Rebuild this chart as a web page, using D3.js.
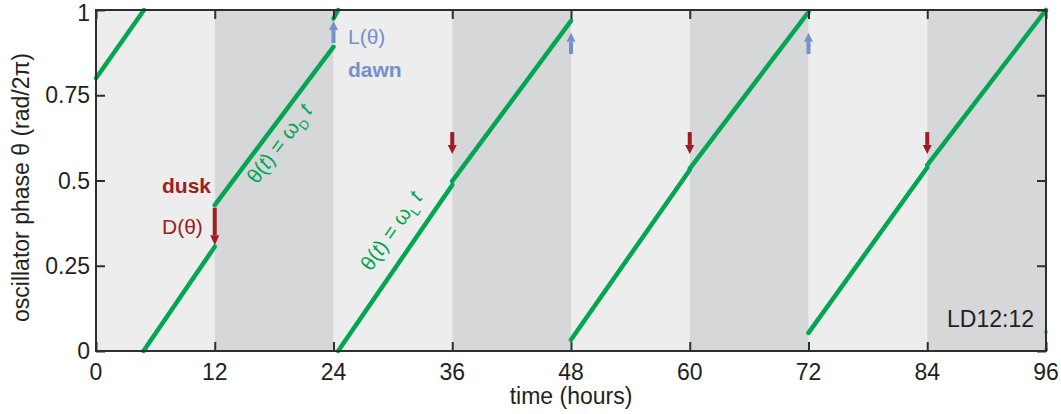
<!DOCTYPE html>
<html>
<head>
<meta charset="utf-8">
<script src="https://cdn.jsdelivr.net/npm/d3@7"></script>
<style>
  html, body { margin: 0; padding: 0; background: #ffffff; }
  svg { display: block; font-family: "Liberation Sans", Arial, Helvetica, sans-serif; }
</style>
</head>
<body>
<svg id="chart" width="1061" height="414"></svg>
<script>
// Light/dark schedule (hours), LD12:12
const lightStart = [0, 24, 48, 72];
const darkStart = [12, 36, 60, 84];
const periodLength = 12;

// Oscillator phase trajectory pieces: start/end time (h) and phase (rad/2π)
const segT0 = [0, 4.8, 12, 24, 24.47, 36, 48, 60, 72, 84];
const segTh0 = [0.80, 0.0, 0.428, 0.975, 0.0, 0.498, 0.033, 0.535, 0.053, 0.545];
const segT1 = [4.85, 12, 24, 24.47, 36, 48, 60, 72, 84, 96];
const segTh1 = [1.0, 0.306, 0.892, 1.0, 0.487, 0.968, 0.531, 0.994, 0.538, 1.0];

// Trailing phase points at the final dawn
const endDotT = [96, 96];
const endDotTh = [0.056, 0.004];

// Dusk shifts D(θ): arrow top and tip phase
const duskT = [12, 36, 60, 84];
const duskFrom = [0.42, 0.642, 0.642, 0.642];
const duskTo = [0.31, 0.578, 0.578, 0.578];

// Dawn shifts L(θ): arrow base and tip phase
const dawnT = [24, 48, 72];
const dawnFrom = [0.903, 0.871, 0.871];
const dawnTo = [0.968, 0.933, 0.933];

const xTicks = [0, 12, 24, 36, 48, 60, 72, 84, 96];
const yTicks = [0, 0.25, 0.5, 0.75, 1];
const yTickLabels = ["0", "0.25", "0.5", "0.75", "1"];

const svg = d3.select("#chart");
const margin = {left: 96, right: 15, top: 10, bottom: 63};
const W = 1061, H = 414;

const x = d3.scaleLinear().domain([0, 96]).range([margin.left, W - margin.right]);
const y = d3.scaleLinear().domain([0, 1]).range([H - margin.bottom, margin.top]);

const green = "#00a651", red = "#a01c22", blue = "#7590cc", ink = "#231f20";

// Shaded light and dark periods
svg.append("g").selectAll("rect.light").data(lightStart).join("rect")
  .attr("x", d => x(d)).attr("y", y(1))
  .attr("width", d => x(d + periodLength) - x(d)).attr("height", y(0) - y(1))
  .attr("fill", "#ecedec");
svg.append("g").selectAll("rect.dark").data(darkStart).join("rect")
  .attr("x", d => x(d)).attr("y", y(1))
  .attr("width", d => x(d + periodLength) - x(d)).attr("height", y(0) - y(1))
  .attr("fill", "#d6d7d9");

// Phase trajectory
const segs = segT0.map((t, i) => [[t, segTh0[i]], [segT1[i], segTh1[i]]]);
const line = d3.line().x(d => x(d[0])).y(d => y(d[1]));
svg.append("g").selectAll("path").data(segs).join("path")
  .attr("d", line)
  .attr("fill", "none").attr("stroke", green)
  .attr("stroke-width", 4.5).attr("stroke-linecap", "round");

svg.append("g").selectAll("rect").data(endDotT.map((t, i) => [t, endDotTh[i]])).join("rect")
  .attr("x", d => x(d[0]) - 1.5).attr("y", d => y(d[1]) - 1.5)
  .attr("width", 3).attr("height", 3).attr("fill", green);

// Axes with inward ticks on all four sides
const tickLen = 9;
const axisColor = "#2e2e2e";
function styleAxis(g) {
  g.select(".domain").remove();
  g.selectAll(".tick line").attr("stroke", axisColor).attr("stroke-width", 2);
}
svg.append("g").attr("transform", `translate(0,${y(0)})`)
  .call(d3.axisBottom(x).tickValues(xTicks).tickSize(-tickLen).tickFormat(""))
  .call(styleAxis);
svg.append("g").attr("transform", `translate(0,${y(1)})`)
  .call(d3.axisTop(x).tickValues(xTicks).tickSize(-tickLen).tickFormat(""))
  .call(styleAxis);
svg.append("g").attr("transform", `translate(${x(0)},0)`)
  .call(d3.axisLeft(y).tickValues(yTicks).tickSize(-tickLen).tickFormat(""))
  .call(styleAxis);
svg.append("g").attr("transform", `translate(${x(96)},0)`)
  .call(d3.axisRight(y).tickValues(yTicks).tickSize(-tickLen).tickFormat(""))
  .call(styleAxis);

svg.append("rect")
  .attr("x", x(0)).attr("y", y(1))
  .attr("width", x(96) - x(0)).attr("height", y(0) - y(1))
  .attr("fill", "none").attr("stroke", axisColor).attr("stroke-width", 2);

// Tick labels
svg.append("g").selectAll("text").data(xTicks).join("text")
  .attr("x", d => x(d)).attr("y", y(0) + 29)
  .attr("text-anchor", "middle").attr("font-size", 23).attr("fill", ink)
  .text(d => d);
svg.append("g").selectAll("text").data(yTicks).join("text")
  .attr("x", x(0) - 6).attr("y", d => Math.max(y(d) + 8, 21))
  .attr("text-anchor", "end").attr("font-size", 23).attr("fill", ink)
  .text((d, i) => yTickLabels[i]);

// Axis titles
svg.append("text")
  .attr("x", x(48)).attr("y", 404)
  .attr("text-anchor", "middle").attr("font-size", 23).attr("fill", ink)
  .text("time (hours)");
svg.append("text")
  .attr("transform", `translate(29,${(y(0) + y(1)) / 2 + 7}) rotate(-90)`)
  .attr("text-anchor", "middle").attr("font-size", 23).attr("fill", ink)
  .text("oscillator phase θ (rad/2π)");

// Arrows
function arrow(g, t, from, to, color, shaft, head, headLen) {
  const x0 = x(t), yA = y(from), yB = y(to);
  const dir = yB > yA ? 1 : -1;
  const yBase = yB - dir * headLen;
  g.append("line").attr("x1", x0).attr("x2", x0).attr("y1", yA).attr("y2", yBase)
    .attr("stroke", color).attr("stroke-width", shaft);
  g.append("path")
    .attr("d", `M${x0 - head},${yBase}L${x0 + head},${yBase}L${x0},${yB}Z`)
    .attr("fill", color);
}
const arrows = svg.append("g");
duskT.forEach((t, i) => arrow(arrows, t, duskFrom[i], duskTo[i], red, 4, 4.5, i === 0 ? 10 : 9));
dawnT.forEach((t, i) => arrow(arrows, t, dawnFrom[i], dawnTo[i], blue, 4, 4.5, 9));

// Annotations
svg.append("text").attr("x", 162).attr("y", 193)
  .attr("font-size", 21).attr("font-weight", "bold").attr("fill", red).text("dusk");
svg.append("text").attr("x", 162).attr("y", 234)
  .attr("font-size", 21).attr("fill", red).text("D(θ)");
svg.append("text").attr("x", 348).attr("y", 44)
  .attr("font-size", 21).attr("fill", blue).text("L(θ)");
svg.append("text").attr("x", 348).attr("y", 77)
  .attr("font-size", 21).attr("font-weight", "bold").attr("fill", blue).text("dawn");
svg.append("text").attr("x", x(96) - 12).attr("y", 327)
  .attr("text-anchor", "end").attr("font-size", 23).attr("fill", ink).text("LD12:12");

// Rotated equations along the trajectory
function eqLabel(cx, cy, angle, sub) {
  const t = svg.append("text")
    .attr("transform", `translate(${cx},${cy}) rotate(${angle})`)
    .attr("text-anchor", "middle").attr("font-size", 21).attr("fill", green);
  t.append("tspan").text("θ(");
  t.append("tspan").attr("font-style", "italic").text("t");
  t.append("tspan").text(") = ω");
  t.append("tspan").attr("font-size", 13).attr("dy", 6).text(sub);
  t.append("tspan").attr("font-style", "italic").attr("dy", -6).text(" t");
}
eqLabel(285, 148, -53, "D");
eqLabel(397, 235, -55, "L");
</script>
</body>
</html>
